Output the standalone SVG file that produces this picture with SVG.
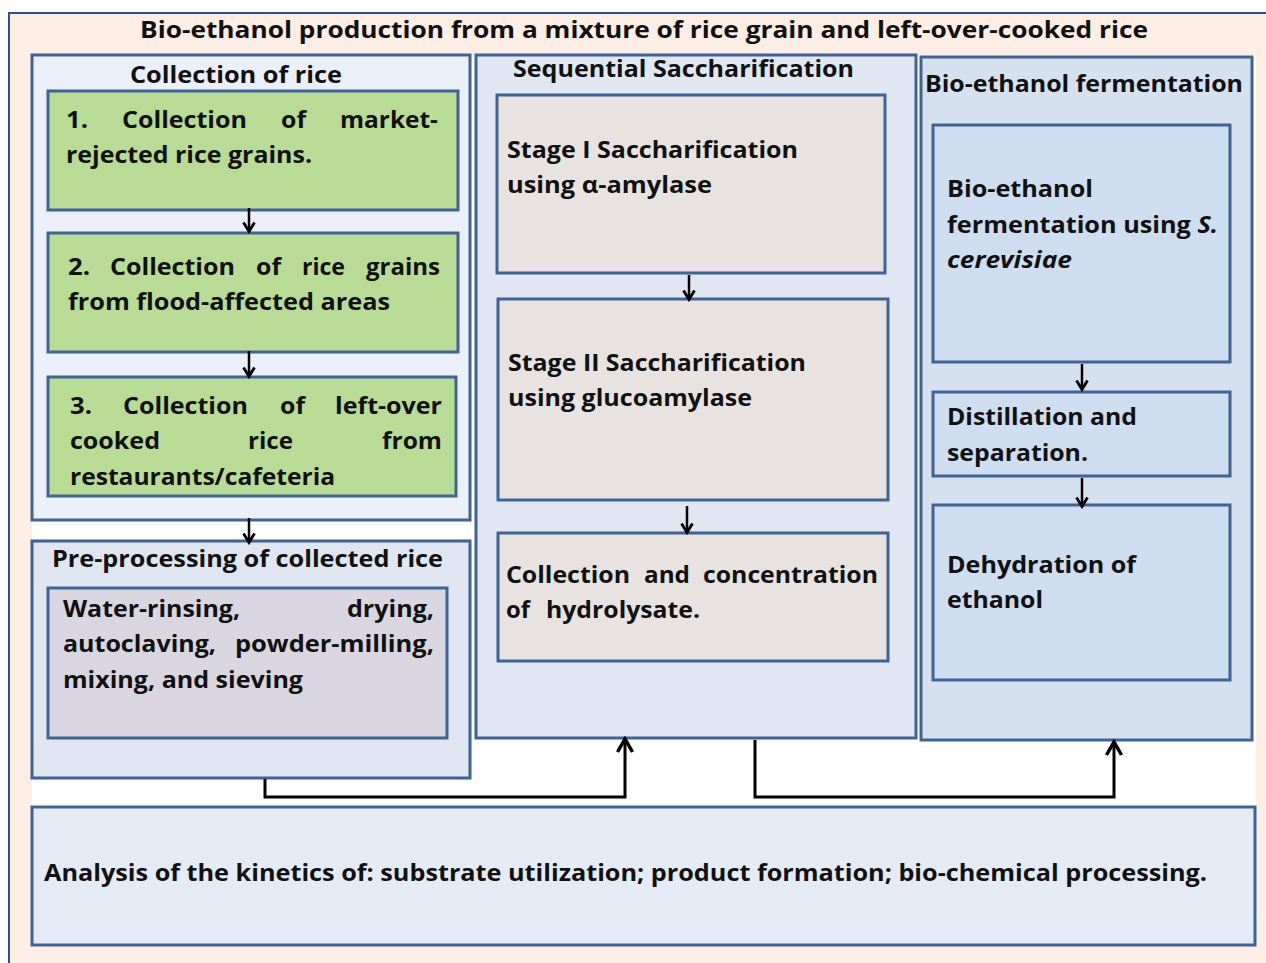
<svg xmlns="http://www.w3.org/2000/svg" width="1266" height="963" viewBox="0 0 1266 963">
<style>
.t{font-family:"Open Sans","Liberation Sans",sans-serif;font-weight:bold;font-size:24px;fill:#111;}
.h{font-family:"Open Sans","Liberation Sans",sans-serif;font-weight:bold;font-size:23px;fill:#111;}
.b{stroke:#3E6394;stroke-width:3;}
.con{fill:none;stroke:#000;stroke-width:3;}
.sm{fill:none;stroke:#000;stroke-width:2.5;}
</style>
<defs>
<marker id="ms" markerUnits="userSpaceOnUse" viewBox="0 0 14 14" markerWidth="14" markerHeight="14" refX="12.5" refY="7" orient="auto">
<path d="M3,1.5 L12,7 L3,12.5" fill="none" stroke="#000" stroke-width="2.8"/>
</marker>
<marker id="mb" markerUnits="userSpaceOnUse" viewBox="0 0 20 20" markerWidth="20" markerHeight="20" refX="18" refY="10" orient="auto">
<path d="M4,2.5 L17,10 L4,17.5" fill="none" stroke="#000" stroke-width="3.5"/>
</marker>
</defs>

<rect id="frame" x="9" y="13" width="1270" height="960" fill="#FCEEE5" stroke="#2F5286" stroke-width="2"/>
<rect x="32" y="55" width="1224" height="751" fill="#FFFFFF"/>

<text class="h" x="140" y="38" textLength="1008" lengthAdjust="spacingAndGlyphs">Bio-ethanol production from a mixture of rice grain and left-over-cooked rice</text>

<g id="collection">
<rect class="b" x="32" y="55" width="438" height="465" fill="#EBF0F8"/>
<text class="t" x="130" y="83" textLength="212" lengthAdjust="spacingAndGlyphs">Collection of rice</text>
</g>

<g id="step1">
<rect class="b" x="48" y="91" width="410" height="119" fill="#B8DC95"/>
<text class="t" y="128"><tspan x="66" textLength="22" lengthAdjust="spacingAndGlyphs">1.</tspan><tspan x="122" textLength="125" lengthAdjust="spacingAndGlyphs">Collection</tspan><tspan x="281" textLength="25" lengthAdjust="spacingAndGlyphs">of</tspan><tspan x="340" textLength="98" lengthAdjust="spacingAndGlyphs">market-</tspan></text>
<text class="t" x="66" y="163" textLength="246" lengthAdjust="spacingAndGlyphs">rejected rice grains.</text>
</g>

<g id="step2">
<rect class="b" x="48" y="233" width="410" height="119" fill="#B8DC95"/>
<text class="t" y="275"><tspan x="68" textLength="22" lengthAdjust="spacingAndGlyphs">2.</tspan><tspan x="110" textLength="125" lengthAdjust="spacingAndGlyphs">Collection</tspan><tspan x="256" textLength="25" lengthAdjust="spacingAndGlyphs">of</tspan><tspan x="302" textLength="43" lengthAdjust="spacingAndGlyphs">rice</tspan><tspan x="366" textLength="74" lengthAdjust="spacingAndGlyphs">grains</tspan></text>
<text class="t" x="68" y="310" textLength="322" lengthAdjust="spacingAndGlyphs">from flood-affected areas</text>
</g>

<g id="step3">
<rect class="b" x="48" y="377" width="408" height="119" fill="#B8DC95"/>
<text class="t" y="414"><tspan x="70" textLength="22" lengthAdjust="spacingAndGlyphs">3.</tspan><tspan x="123" textLength="125" lengthAdjust="spacingAndGlyphs">Collection</tspan><tspan x="280" textLength="25" lengthAdjust="spacingAndGlyphs">of</tspan><tspan x="335" textLength="107" lengthAdjust="spacingAndGlyphs">left-over</tspan></text>
<text class="t" y="449"><tspan x="70" textLength="90" lengthAdjust="spacingAndGlyphs">cooked</tspan><tspan x="248" textLength="45" lengthAdjust="spacingAndGlyphs">rice</tspan><tspan x="382" textLength="60" lengthAdjust="spacingAndGlyphs">from</tspan></text>
<text class="t" x="70" y="485" textLength="265" lengthAdjust="spacingAndGlyphs">restaurants/cafeteria</text>
</g>

<g id="preprocessing">
<rect class="b" x="32" y="541" width="438" height="237" fill="#DFE6F2"/>
<text class="t" x="52" y="567" textLength="391" lengthAdjust="spacingAndGlyphs">Pre-processing of collected rice</text>
</g>

<g id="preprocessing-steps">
<rect class="b" x="48" y="588" width="399" height="150" fill="#D9D6E1"/>
<text class="t" y="617"><tspan x="63" textLength="177" lengthAdjust="spacingAndGlyphs">Water-rinsing,</tspan><tspan x="347" textLength="87" lengthAdjust="spacingAndGlyphs">drying,</tspan></text>
<text class="t" y="652"><tspan x="63" textLength="153" lengthAdjust="spacingAndGlyphs">autoclaving,</tspan><tspan x="235" textLength="199" lengthAdjust="spacingAndGlyphs">powder-milling,</tspan></text>
<text class="t" x="63" y="688" textLength="240" lengthAdjust="spacingAndGlyphs">mixing, and sieving</text>
</g>

<g id="saccharification">
<rect class="b" x="476" y="55" width="440" height="683" fill="#E0E7F2"/>
<text class="t" x="513" y="77" textLength="341" lengthAdjust="spacingAndGlyphs">Sequential Saccharification</text>
</g>

<g id="stage1">
<rect class="b" x="497" y="95" width="388" height="178" fill="#E8E3E1"/>
<text class="t" x="507" y="158" textLength="291" lengthAdjust="spacingAndGlyphs">Stage I Saccharification</text>
<text class="t" x="507" y="193" textLength="205" lengthAdjust="spacingAndGlyphs">using α-amylase</text>
</g>

<g id="stage2">
<rect class="b" x="498" y="299" width="390" height="201" fill="#E8E3E1"/>
<text class="t" x="508" y="371" textLength="298" lengthAdjust="spacingAndGlyphs">Stage II Saccharification</text>
<text class="t" x="508" y="406" textLength="244" lengthAdjust="spacingAndGlyphs">using glucoamylase</text>
</g>

<g id="hydrolysate">
<rect class="b" x="498" y="533" width="390" height="128" fill="#E8E3E1"/>
<text class="t" y="583"><tspan x="506" textLength="124" lengthAdjust="spacingAndGlyphs">Collection</tspan><tspan x="644" textLength="46" lengthAdjust="spacingAndGlyphs">and</tspan><tspan x="703" textLength="175" lengthAdjust="spacingAndGlyphs">concentration</tspan></text>
<text class="t" y="618"><tspan x="506" textLength="24" lengthAdjust="spacingAndGlyphs">of</tspan><tspan x="546" textLength="154" lengthAdjust="spacingAndGlyphs">hydrolysate.</tspan></text>
</g>

<g id="fermentation-stage">
<rect class="b" x="921" y="57" width="331" height="683" fill="#D6E1EF"/>
<text class="t" x="925" y="92" textLength="318" lengthAdjust="spacingAndGlyphs">Bio-ethanol fermentation</text>
</g>

<g id="fermentation">
<rect class="b" x="933" y="125" width="297" height="237" fill="#CEDDF0"/>
<text class="t" x="947" y="197" textLength="146" lengthAdjust="spacingAndGlyphs">Bio-ethanol</text>
<text class="t" x="947" y="233" textLength="271" lengthAdjust="spacingAndGlyphs">fermentation using <tspan font-style="italic">S.</tspan></text>
<text class="t" x="947" y="268" font-style="italic" textLength="125" lengthAdjust="spacingAndGlyphs">cerevisiae</text>
</g>

<g id="distillation">
<rect class="b" x="933" y="392" width="297" height="84" fill="#CEDDF0"/>
<text class="t" x="947" y="425" textLength="190" lengthAdjust="spacingAndGlyphs">Distillation and</text>
<text class="t" x="947" y="461" textLength="141" lengthAdjust="spacingAndGlyphs">separation.</text>
</g>

<g id="dehydration">
<rect class="b" x="933" y="505" width="297" height="175" fill="#CEDDF0"/>
<text class="t" x="947" y="573" textLength="189" lengthAdjust="spacingAndGlyphs">Dehydration of</text>
<text class="t" x="947" y="608" textLength="96" lengthAdjust="spacingAndGlyphs">ethanol</text>
</g>

<g id="analysis">
<rect class="b" x="32" y="807" width="1223" height="138" fill="#E5EBF5"/>
<text class="t" x="44" y="881" textLength="1163" lengthAdjust="spacingAndGlyphs">Analysis of the kinetics of: substrate utilization; product formation; bio-chemical processing.</text>
</g>

<g id="connectors">
<path class="sm" d="M249,208 V232" marker-end="url(#ms)"/>
<path class="sm" d="M249,351 V377" marker-end="url(#ms)"/>
<path class="sm" d="M249,518 V543" marker-end="url(#ms)"/>
<path class="sm" d="M689,275 V300" marker-end="url(#ms)"/>
<path class="sm" d="M687,506 V533" marker-end="url(#ms)"/>
<path class="sm" d="M1082,364 V390" marker-end="url(#ms)"/>
<path class="sm" d="M1082,478 V507" marker-end="url(#ms)"/>
<path class="con" d="M265,779 V797 H625 V738" marker-end="url(#mb)"/>
<path class="con" d="M755,740 V797 H1114 V741" marker-end="url(#mb)"/>
</g>
</svg>
